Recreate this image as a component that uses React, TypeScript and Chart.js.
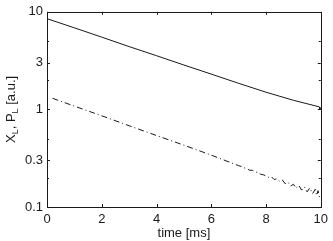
import React, { useEffect, useRef } from "react";
import { Chart, registerables } from "chart.js";

Chart.register(...registerables);

const xTickValues = [0, 2, 4, 6, 8, 10];
const yTickValues = [0.1, 0.3, 1, 3, 10];
const yMinorTickValues = [0.2, 0.5, 2, 5];

const solidTime = [0, 1, 2, 3, 4, 5, 6, 7, 8, 9, 9.9, 9.95, 9.97, 10];
const solidValues = [8.5, 6.85, 5.5, 4.4, 3.55, 2.85, 2.3, 1.85, 1.5, 1.24, 1.07, 1.06, 0.99, 1.03];

const dashTime = [
  0.2, 1, 2, 3, 4, 5, 6, 7.0, 7.1, 7.2, 7.3, 7.4, 7.5, 7.6, 7.7, 7.8, 7.9, 8.0, 8.1, 8.2, 8.3,
  8.4, 8.5, 8.6, 8.7, 8.8, 8.9, 9.0, 9.1, 9.2, 9.3, 9.4, 9.5, 9.6, 9.7, 9.8, 9.85, 9.9, 9.95, 10,
];
const dashValues = [
  1.3, 1.08, 0.86, 0.68, 0.54, 0.43, 0.34, 0.265, 0.26, 0.252, 0.247, 0.238, 0.238, 0.228, 0.227,
  0.217, 0.214, 0.208, 0.201, 0.204, 0.191, 0.195, 0.183, 0.189, 0.173, 0.18, 0.164, 0.171, 0.156,
  0.167, 0.149, 0.161, 0.143, 0.157, 0.137, 0.152, 0.131, 0.147, 0.126, 0.125,
];

const FONT = "Liberation Sans, Arial, Helvetica, sans-serif";
const INK = "#1a1a1a";
const FS = 13;

const boxPlugin = {
  id: "boxPlugin",
  afterDraw(chart: any) {
    const { ctx, chartArea } = chart;
    const xs = chart.scales.x;
    const ys = chart.scales.y;
    ctx.save();
    ctx.strokeStyle = INK;
    ctx.lineWidth = 1;
    ctx.strokeRect(
      Math.round(chartArea.left) + 0.5,
      Math.round(chartArea.top) + 0.5,
      Math.round(chartArea.right - chartArea.left),
      Math.round(chartArea.bottom - chartArea.top)
    );
    ctx.beginPath();
    const L = 3;
    xTickValues.forEach((v) => {
      const px = Math.round(xs.getPixelForValue(v)) + 0.5;
      ctx.moveTo(px, chartArea.bottom);
      ctx.lineTo(px, chartArea.bottom - L);
      ctx.moveTo(px, chartArea.top);
      ctx.lineTo(px, chartArea.top + L);
    });
    yTickValues.forEach((v) => {
      const py = Math.round(ys.getPixelForValue(v)) + 0.5;
      ctx.moveTo(chartArea.left, py);
      ctx.lineTo(chartArea.left + L, py);
      ctx.moveTo(chartArea.right, py);
      ctx.lineTo(chartArea.right - L, py);
    });
    yMinorTickValues.forEach((v) => {
      const py = Math.round(ys.getPixelForValue(v)) + 0.5;
      ctx.moveTo(chartArea.left, py);
      ctx.lineTo(chartArea.left + 2, py);
      ctx.moveTo(chartArea.right, py);
      ctx.lineTo(chartArea.right - 2, py);
    });
    ctx.stroke();

    // y axis title with subscripts
    const big = FS + "px " + FONT;
    const small = "9px " + FONT;
    const parts: [string, boolean][] = [
      ["X", false],
      ["L", true],
      [", P", false],
      ["L", true],
      [" [a.u.]", false],
    ];
    let total = 0;
    parts.forEach(([t, sub]) => {
      ctx.font = sub ? small : big;
      total += ctx.measureText(t).width;
    });
    const cy = (chartArea.top + chartArea.bottom) / 2;
    ctx.translate(15, cy);
    ctx.rotate(-Math.PI / 2);
    ctx.fillStyle = INK;
    ctx.textBaseline = "alphabetic";
    let x = -total / 2;
    parts.forEach(([t, sub]) => {
      ctx.font = sub ? small : big;
      ctx.fillText(t, x, sub ? 3 : 0);
      x += ctx.measureText(t).width;
    });
    ctx.restore();
  },
};

export default function App() {
  const ref = useRef<HTMLCanvasElement | null>(null);
  useEffect(() => {
    document.body.style.margin = "0";
    const chart = new Chart(ref.current as HTMLCanvasElement, {
      type: "line",
      data: {
        datasets: [
          {
            data: solidTime.map((t, i) => ({ x: t, y: solidValues[i] })),
            borderColor: INK,
            borderWidth: 1,
            pointRadius: 0,
            tension: 0,
            fill: false,
          },
          {
            data: dashTime.map((t, i) => ({ x: t, y: dashValues[i] })),
            borderColor: INK,
            borderWidth: 1,
            borderDash: [6, 3, 1, 3],
            pointRadius: 0,
            tension: 0,
            fill: false,
          },
        ],
      },
      options: {
        animation: false,
        responsive: true,
        maintainAspectRatio: false,
        layout: { padding: { top: 10, right: 12, left: 0, bottom: 0 } },
        plugins: { legend: { display: false }, tooltip: { enabled: false } },
        scales: {
          x: {
            type: "linear",
            min: 0,
            max: 10,
            afterBuildTicks: (s: any) => {
              s.ticks = xTickValues.map((v) => ({ value: v }));
            },
            afterFit: (s: any) => {
              s.height = 34;
            },
            grid: { display: false, drawTicks: false },
            border: { display: false },
            ticks: {
              color: INK,
              font: { family: FONT, size: FS },
              padding: 5,
              maxRotation: 0,
            },
            title: {
              display: true,
              text: "time [ms]",
              color: INK,
              font: { family: FONT, size: FS },
              padding: { top: 0, bottom: 0 },
            },
          },
          y: {
            type: "logarithmic",
            min: 0.1,
            max: 10,
            afterBuildTicks: (s: any) => {
              s.ticks = yTickValues.map((v) => ({ value: v }));
            },
            afterFit: (s: any) => {
              s.width = 47;
            },
            grid: { display: false, drawTicks: false },
            border: { display: false },
            ticks: {
              color: INK,
              font: { family: FONT, size: FS },
              padding: 4,
              callback: (v: any) => String(v),
            },
          },
        },
      },
      plugins: [boxPlugin],
    });
    return () => chart.destroy();
  }, []);
  return (
    <div style={{ position: "absolute", left: 0, top: 0, width: 333, height: 241 }}>
      <canvas ref={ref} />
    </div>
  );
}
